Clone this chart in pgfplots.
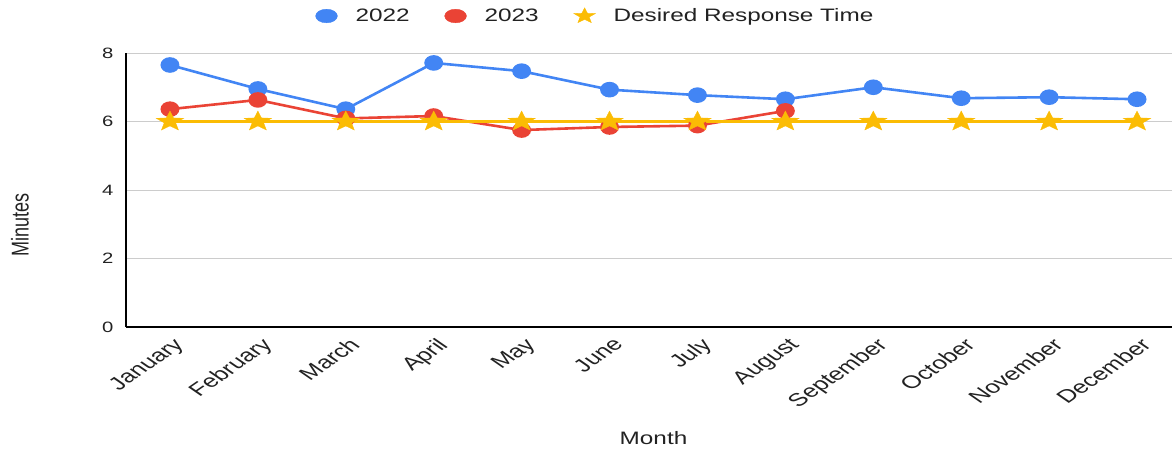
\documentclass[border=0pt]{standalone}
\usepackage{pgfplots}
\pgfplotsset{compat=1.18}
\usepackage{fontspec}
\setmainfont{Liberation Sans}[FakeStretch=1.35]
\newfontfamily\plainfont{Liberation Sans}
\definecolor{gblue}{HTML}{4285F4}
\definecolor{gred}{HTML}{EA4335}
\definecolor{gyellow}{HTML}{FBBC04}
\definecolor{gridgray}{HTML}{CCCCCC}
\definecolor{txt}{HTML}{222222}
\pgfdeclareplotmark{fstar}{%
  \pgfpathmoveto{\pgfqpointpolar{90}{\pgfplotmarksize}}%
  \pgfpathlineto{\pgfqpointpolar{126}{0.42\pgfplotmarksize}}%
  \pgfpathlineto{\pgfqpointpolar{162}{\pgfplotmarksize}}%
  \pgfpathlineto{\pgfqpointpolar{198}{0.42\pgfplotmarksize}}%
  \pgfpathlineto{\pgfqpointpolar{234}{\pgfplotmarksize}}%
  \pgfpathlineto{\pgfqpointpolar{270}{0.42\pgfplotmarksize}}%
  \pgfpathlineto{\pgfqpointpolar{306}{\pgfplotmarksize}}%
  \pgfpathlineto{\pgfqpointpolar{342}{0.42\pgfplotmarksize}}%
  \pgfpathlineto{\pgfqpointpolar{18}{\pgfplotmarksize}}%
  \pgfpathlineto{\pgfqpointpolar{54}{0.42\pgfplotmarksize}}%
  \pgfpathclose
  \pgfusepathqfillstroke}
\pgfplotsset{
  mylegend/.style={legend image code/.code={%
    \path[draw=none,fill=none] (0pt,0pt) -- (39pt,0pt);
    \draw[##1,only marks] plot coordinates {(12pt,0pt)};}},
}
\begin{document}
\begin{tikzpicture}
\begin{axis}[
  scale only axis,
  width=1055pt, height=274pt,
  xmin=-0.5, xmax=11.5,
  ymin=0, ymax=8,
  ytick={0,2,4,6,8},
  xtick={0,...,11},
  xticklabels={January,February,March,April,May,June,July,August,September,October,November,December},
  axis x line*=bottom, axis y line*=left,
  axis line style={-, black, line width=1.4pt},
  major tick length=0pt,
  ymajorgrids, grid style={gridgray, line width=0.8pt},
  /pgf/number format/assume math mode=true,
  yticklabel style={font=\fontsize{15}{18}\selectfont, text=txt, xshift=-9pt},
  xticklabel style={font=\plainfont\fontsize{18}{21}\selectfont, text=txt, anchor=north east, xshift=2pt, yshift=-5pt, cm={1.025,0.7071,-1.025,0.7071,(0,0)}},
  xlabel={Month}, ylabel={Minutes},
  xlabel style={font=\fontsize{18}{21}\selectfont, text=txt, at={(axis description cs:0.5,-0.405)}, anchor=center},
  ylabel style={font=\plainfont\fontsize{18}{21}\selectfont, text=txt, at={(axis description cs:-0.1005,0.372)}, anchor=center, yscale=1.35},
  legend style={draw=none, fill=none, legend columns=-1, at={(axis description cs:0.4445,1.135)}, anchor=center,
    font=\fontsize{18}{21}\selectfont, text=txt,
    /tikz/every even column/.append style={column sep=32pt}},
  legend cell align=left,
]
\addlegendimage{mylegend, mark=*, color=gblue, mark options={xscale=1.6, fill=gblue, draw=gblue}, mark size=6.8pt}
\addlegendentry{2022}
\addlegendimage{mylegend, mark=*, color=gred, mark options={xscale=1.6, fill=gred, draw=gred}, mark size=6.8pt}
\addlegendentry{2023}
\addlegendimage{mylegend, mark=fstar, color=gyellow, mark options={xscale=1.4, fill=gyellow, draw=gyellow, line width=0.3pt}, mark size=8.2pt}
\addlegendentry{Desired Response Time}

\addplot[forget plot, color=gblue, line width=2.6pt, mark=*, mark size=6.5pt, mark options={xscale=1.25, fill=gblue, draw=gblue}]
coordinates {(0,7.65) (1,6.95) (2,6.36) (3,7.71) (4,7.47) (5,6.93) (6,6.77) (7,6.65) (8,7.00) (9,6.68) (10,6.71) (11,6.65)};
\addplot[forget plot, color=gred, line width=2.6pt, mark=*, mark size=6.5pt, mark options={xscale=1.25, fill=gred, draw=gred}]
coordinates {(0,6.36) (1,6.63) (2,6.09) (3,6.16) (4,5.75) (5,5.84) (6,5.88) (7,6.31)};
\addplot[forget plot, color=gyellow, line width=2.6pt, mark=fstar, mark size=10.5pt, mark options={xscale=1.38, fill=gyellow, draw=gyellow, line width=0.3pt}]
coordinates {(0,6) (1,6) (2,6) (3,6) (4,6) (5,6) (6,6) (7,6) (8,6) (9,6) (10,6) (11,6)};
\end{axis}
\pgfresetboundingbox
\path[use as bounding box] (-126pt,-124pt) rectangle (1046pt,327pt);
\end{tikzpicture}
\end{document}
